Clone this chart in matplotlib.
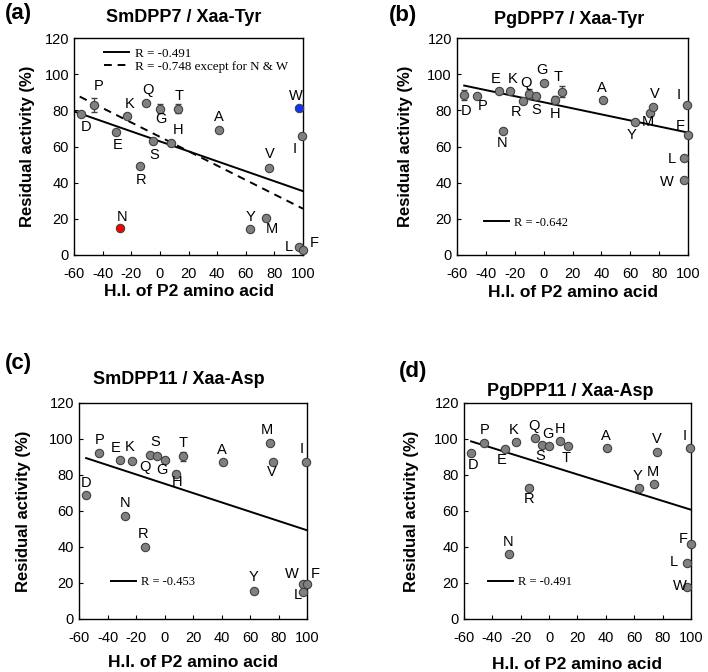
import numpy as np
import matplotlib.pyplot as plt

plt.rcParams['font.family'] = ['Liberation Sans', 'DejaVu Sans']
plt.rcParams['axes.unicode_minus'] = False

# hydrophobicity index of the P2 residue
aa = ['D', 'P', 'E', 'K', 'N', 'R', 'Q', 'S', 'G', 'H', 'T', 'A', 'Y', 'M', 'V', 'W', 'L', 'I', 'F']
hi = [-55, -46, -31, -23, -28, -14, -10, -5, 0, 8, 13, 41, 63, 74, 76, 97, 97, 99, 100]

# residual activity (%) for each panel, same order as aa
sm_dpp7 = [78, 83, 68, 77, 15, 49, 84, 63, 81, 62, 81, 69, 14.5, 20.5, 48, 81.5, 4.6, 66, 2.8]
sm_dpp7_err = [0, 4, 0, 0, 0, 0, 0, 0, 2.5, 0, 2.5, 0, 0, 1.5, 0, 0, 0, 0, 0]
pg_dpp7 = [88.5, 87.8, 90.9, 90.9, 68.3, 85.3, 89, 87.9, 95.2, 85.7, 90.4, 85.7, 73.3, 78.5, 82, 41.4, 53.4, 83.1, 66.2]
pg_dpp7_err = [3, 0, 0, 0, 0, 0, 3, 0, 0, 2, 3, 0, 0, 0, 0, 0, 0, 0, 0]
sm_dpp11 = [68.7, 92.2, 88.5, 88, 57, 40, 90.9, 90.6, 88.3, 80.7, 90.4, 87.4, 15.4, 97.8, 87.4, 19.6, 14.8, 87.4, 19.6]
sm_dpp11_err = [0, 0, 0, 0, 0, 0, 0, 0, 0, 1.5, 2.5, 0, 0, 0, 0, 0, 0, 0, 0]
pg_dpp11 = [92.4, 97.8, 94.3, 98.5, 36.3, 72.8, 100.4, 96.5, 95.9, 98.7, 95.9, 95, 73, 75.2, 92.8, 17.8, 31.1, 94.8, 41.7]
pg_dpp11_err = [0] * 19

# regression lines: (x start, y start, x end, y end)
fit_a = (-60, 79.4, 100, 35.3)
fit_a_dash = (-56, 87.6, 100, 25.6)
fit_b = (-55, 93.7, 100, 67.7)
fit_c = (-55, 89.4, 100, 49.3)
fit_d = (-55, 98.7, 100, 60.7)

# label offsets in pixels (dx, dy up)
off_a = {'D': (5, -13), 'P': (5, 19), 'E': (2, -13), 'K': (3, 12), 'N': (2, 11), 'R': (1, -14),
         'Q': (2, 13), 'S': (2, -14), 'G': (1, -10), 'H': (7, 13), 'T': (1, 13), 'A': (0, 13),
         'Y': (0, 12), 'M': (6, -11), 'V': (1, 14), 'W': (-3, 12), 'L': (-10, 0), 'I': (-7, -13), 'F': (11, 7)}
off_b = {'D': (2, -16), 'P': (5, -10), 'E': (-3, 12), 'K': (2, 12), 'N': (-1, -12), 'R': (-7, -11),
         'Q': (-3, 11), 'S': (0, -14), 'G': (-2, 13), 'H': (0, -14), 'T': (-4, 15), 'A': (-1, 12),
         'Y': (-3, -13), 'M': (-3, -9), 'V': (1, 13), 'W': (-17, -2), 'L': (-12, -1), 'I': (-8, 10), 'F': (-8, 9)}
off_c = {'D': (0, 12), 'P': (1, 13), 'E': (-5, 12), 'K': (-2, 14), 'N': (0, 13), 'R': (-1, 13),
         'Q': (-5, -12), 'S': (-2, 14), 'G': (-3, -10), 'H': (1, -8), 'T': (0, 13), 'A': (-1, 12),
         'Y': (-1, 14), 'M': (-3, 13), 'V': (-1, -10), 'W': (-11, 10), 'L': (-5, -3), 'I': (-4, 13), 'F': (8, 10)}
off_d = {'D': (2, -12), 'P': (1, 13), 'E': (-4, -11), 'K': (-3, 12), 'N': (-1, 12), 'R': (0, -11),
         'Q': (-1, 12), 'S': (-2, -11), 'G': (-1, 12), 'H': (0, 12), 'T': (-1, -12), 'A': (-1, 12),
         'Y': (-1, 12), 'M': (-1, 12), 'V': (0, 13), 'W': (-7, 1), 'L': (-13, 1), 'I': (-5, 12), 'F': (-8, 5)}

fig = plt.figure(figsize=(7.08, 6.72), dpi=100)
W, H = 708, 672


def make_axes(x0, x1, ytop, ybot):
    return fig.add_axes([x0 / W, 1 - ybot / H, (x1 - x0) / W, (ybot - ytop) / H])


def draw_panel(ax, y, yerr, offs, ypad, xpad, colors=None):
    for i, a in enumerate(aa):
        fc = '#808080'
        if colors and a in colors:
            fc = colors[a]
        if yerr[i] > 0:
            ax.errorbar(hi[i], y[i], yerr=yerr[i], fmt='none', ecolor='#404040', elinewidth=0.9,
                        capsize=2.5, zorder=3)
        ax.plot(hi[i], y[i], 'o', ms=6, mfc=fc, mec='#404040', mew=0.8, zorder=4, clip_on=False)
        dx, dy = offs[a]
        ax.annotate(a, (hi[i], y[i]), xytext=(dx * 0.72, dy * 0.72), textcoords='offset points',
                    ha='center', va='center', fontsize=10.5, zorder=5)
    ax.set_xlim(-60, 100)
    ax.set_ylim(0, 120)
    ax.set_xticks(range(-60, 101, 20))
    ax.set_yticks(range(0, 121, 20))
    ax.tick_params(direction='in', length=3, labelsize=10.5)
    ax.tick_params(axis='x', pad=8.5)
    ax.tick_params(axis='y', pad=3.6)
    for s in ax.spines.values():
        s.set_linewidth(1.0)
    ax.set_xlabel('H.I. of P2 amino acid', fontsize=12.5, fontweight='bold', labelpad=xpad)
    ax.set_ylabel('Residual activity (%)', fontsize=12, fontweight='bold', labelpad=ypad)


def fit_line(ax, f, ls='-', label=None):
    ax.plot([f[0], f[2]], [f[1], f[3]], color='black', lw=1.4, ls=ls, label=label, zorder=2)


leg_kw = dict(frameon=False, handlelength=2.0, prop={'family': 'Liberation Serif', 'size': 9})

ax_a = make_axes(74, 303, 38, 255)
draw_panel(ax_a, sm_dpp7, sm_dpp7_err, off_a, 7, 2, colors={'N': '#ff0000', 'W': '#1030ff'})
fit_line(ax_a, fit_a, '-', 'R = -0.491')
fit_line(ax_a, fit_a_dash, (0, (4, 3)), 'R = -0.748 except for N & W')
ax_a.legend(loc='upper left', bbox_to_anchor=(0.08, 1.01), handletextpad=0.45, labelspacing=0.05,
            frameon=False, handlelength=1.9, prop={'family': 'Liberation Serif', 'size': 9.4})

ax_b = make_axes(457, 688, 38, 255)
draw_panel(ax_b, pg_dpp7, pg_dpp7_err, off_b, 10, 3)
fit_line(ax_b, fit_b, '-', 'R = -0.642')
ax_b.legend(loc='lower left', bbox_to_anchor=(0.069, 0.07), handletextpad=0.4, **leg_kw)

ax_c = make_axes(79, 307, 403, 619)
draw_panel(ax_c, sm_dpp11, sm_dpp11_err, off_c, 13, 7)
fit_line(ax_c, fit_c, '-', 'R = -0.453')
ax_c.legend(loc='lower left', bbox_to_anchor=(0.093, 0.09), handletextpad=0.4, **leg_kw)

ax_d = make_axes(464, 691, 403, 619)
draw_panel(ax_d, pg_dpp11, pg_dpp11_err, off_d, 11, 9)
fit_line(ax_d, fit_d, '-', 'R = -0.491')
ax_d.legend(loc='lower left', bbox_to_anchor=(0.058, 0.09), handletextpad=0.4, **leg_kw)

# titles and panel letters
titles = [('SmDPP7 / Xaa-Tyr', 184, 17), ('PgDPP7 / Xaa-Tyr', 569, 19),
          ('SmDPP11 / Xaa-Asp', 179, 380), ('PgDPP11 / Xaa-Asp', 570, 392)]
for t, x, yy in titles:
    fig.text(x / W, 1 - yy / H, t, ha='center', va='center', fontsize=13, fontweight='bold')
letters = [('(a)', 5, 14), ('(b)', 389, 15), ('(c)', 5, 363), ('(d)', 399, 372)]
for t, x, yy in letters:
    fig.text(x / W, 1 - yy / H, t, ha='left', va='center', fontsize=16, fontweight='bold')

fig.savefig('out.png', dpi=100)
